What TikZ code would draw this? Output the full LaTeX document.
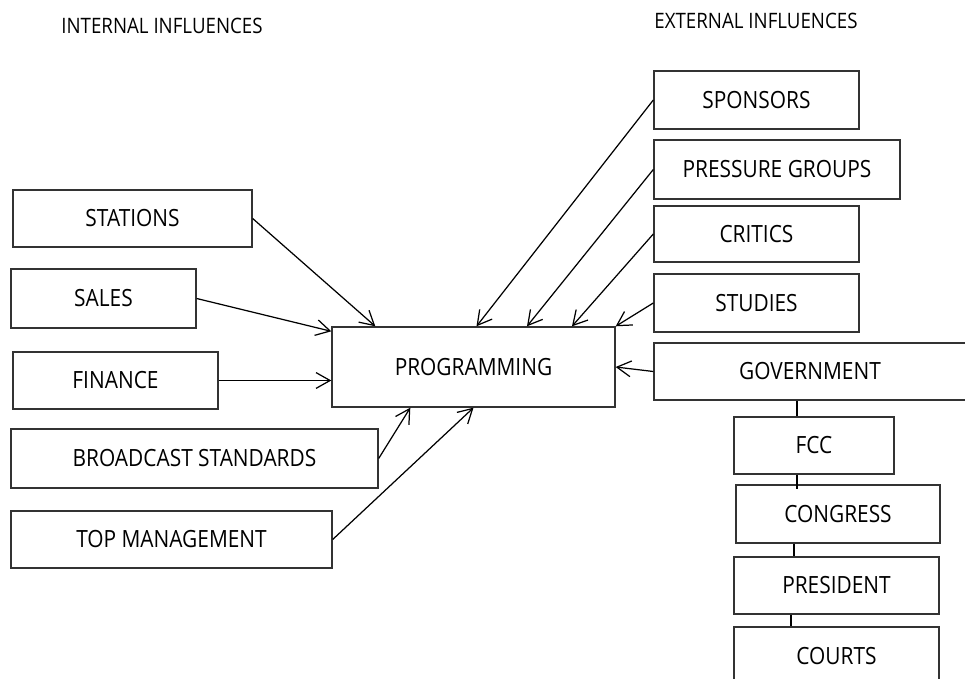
\documentclass[tikz,border=0pt]{standalone}
\usepackage{fontspec}
\setmainfont[FakeStretch=0.88]{Open Sans}
\usetikzlibrary{arrows.meta, positioning}

\begin{document}
\begin{tikzpicture}[x = 0.02cm, y = -0.02cm]
        \tikzstyle{main} = [rectangle, draw = black!80, line width = 0.8pt, inner sep = 0pt, minimum height = 1.14cm, font = \fontsize{13.5}{16}\selectfont]
        \tikzstyle{connect} = [-{Straight Barb[length = 8pt, width = 9pt]}, line width = 0.7pt]
        \tikzstyle{link} = [line width = 0.7pt]
        \tikzstyle{heading} = [inner sep = 0pt, font = \fontsize{12.1}{14}\selectfont]
        \useasboundingbox (0,0) rectangle (965,679);
        \node[heading] (int) at (162,26) {INTERNAL INFLUENCES};
        \node[heading] (ext) at (756,21) {EXTERNAL INFLUENCES};
        % internal side
        \node[main, minimum width = 4.78cm] (sta) at (132.5,218.5) {STATIONS};
        \node[main, minimum width = 3.70cm, minimum height = 1.18cm] (sal) at (103.5,298.5) {SALES};
        \node[main, minimum width = 4.10cm] (fin) at (115.5,380.5) {FINANCE};
        \node[main, minimum width = 7.34cm, minimum height = 1.18cm] (bro) at (194.5,458.5) {BROADCAST STANDARDS};
        \node[main, minimum width = 6.42cm] (top) at (171.5,539.5) {TOP MANAGEMENT};
        \node[main, minimum width = 5.66cm, minimum height = 1.60cm] (prog) at (473.5,367) {PROGRAMMING};
        % external side
        \node[main, minimum width = 4.10cm, minimum height = 1.16cm] (spo) at (756.5,100) {SPONSORS};
        \node[main, minimum width = 4.92cm, minimum height = 1.18cm] (pre) at (777,169.5) {PRESSURE GROUPS};
        \node[main, minimum width = 4.10cm, minimum height = 1.12cm] (cri) at (756.5,234) {CRITICS};
        \node[main, minimum width = 4.10cm, minimum height = 1.16cm] (stu) at (756.5,303) {STUDIES};
        \node[main, minimum width = 6.24cm] (gov) at (810,371.5) {GOVERNMENT};
        \node[main, minimum width = 3.20cm] (fcc) at (814,445.5) {FCC};
        \node[main, minimum width = 4.08cm, minimum height = 1.16cm] (con) at (838,514) {CONGRESS};
        \node[main, minimum width = 4.10cm] (pres) at (836.5,585.5) {PRESIDENT};
        \node[main, minimum width = 4.10cm, minimum height = 1.16cm] (cou) at (836.5,656) {COURTS};
        \path (sta.east) edge [connect] ([xshift = 0.88cm]prog.north west)
        (sal.east) edge [connect] ([yshift = -0.1cm]prog.north west)
        (fin.east) edge [connect] (fin.east -| prog.west)
        (bro.east) edge [connect] ([xshift = 1.58cm]prog.south west)
        (top.east) edge [connect] (prog.south);
        \path (spo.west) edge [connect] ([xshift = 0.06cm]prog.north)
        (pre.west) edge [connect] ([xshift = 1.07cm]prog.north)
        (cri.west) edge [connect] ([xshift = 1.97cm]prog.north)
        (stu.west) edge [connect] (prog.north east)
        (gov.west) edge [connect] (prog.east);
        \draw[link] ([xshift = -0.34cm]fcc.north) -- ([xshift = -0.34cm]fcc.north |- gov.south);
        \draw[link] ([xshift = -0.34cm]fcc.south) -- ([xshift = -0.34cm, yshift = -0.1cm]fcc.south |- con.north);
        \draw[link] ([xshift = -0.88cm]con.south) -- ([xshift = -0.88cm]con.south |- pres.north);
        \draw[link] ([xshift = -0.91cm]pres.south) -- ([xshift = -0.91cm]pres.south |- cou.north);
      \end{tikzpicture}
\end{document}
